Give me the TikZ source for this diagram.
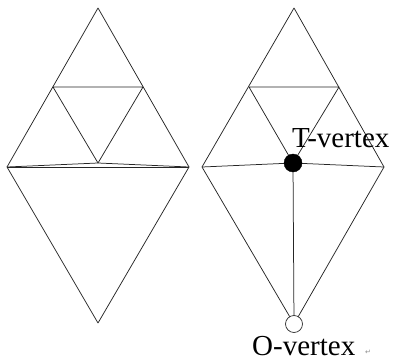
\documentclass[tikz,border=0pt]{standalone}
\usepackage{fontspec}
\setmainfont{Liberation Serif}
\newfontfamily\symfont{DejaVu Sans}
\tikzset{
  edge/.style={draw=black!85, line width=0.75pt, line join=round},
  tvert/.style={circle, fill=black, draw=black, inner sep=0pt, minimum size=18pt},
  overt/.style={circle, fill=white, draw=black!80, line width=0.75pt, inner sep=0pt, minimum size=17pt},
  lbl/.style={font=\fontsize{29}{29}\selectfont, inner sep=0pt, anchor=base west},
}
\begin{document}
\begin{tikzpicture}[x=1pt,y=-1pt]
\useasboundingbox (0,0) rectangle (395,361);
% left diamond
\coordinate (a1) at (98,8);
\coordinate (b1) at (53,87);
\coordinate (c1) at (143,87);
\coordinate (l1) at (7,167);
\coordinate (r1) at (189,167);
\coordinate (m1) at (98,163);
\coordinate (d1) at (98,323);
\draw[edge] (a1) -- (l1) -- (d1) -- (r1) -- cycle;
\draw[edge] (b1) -- (c1) -- (m1) -- cycle;
\draw[edge] (l1) -- (r1);
\draw[edge] (l1) -- (m1) -- (r1);
% right diamond
\coordinate (a2) at (294,8);
\coordinate (b2) at (249,87);
\coordinate (c2) at (339,87);
\coordinate (l2) at (202,167);
\coordinate (r2) at (384,167);
\coordinate (tc) at (293,163);
\coordinate (oc) at (294,324);
\draw[edge] (a2) -- (l2) -- (oc) -- (r2) -- cycle;
\draw[edge] (b2) -- (c2) -- (tc) -- cycle;
\draw[edge] (l2) -- (tc) -- (r2);
\draw[edge] (tc) -- (oc);
\node[tvert] (t) at (tc) {};
\node[overt] (o) at (oc) {};
\node[lbl] (tl) at (292,147) {T-vertex};
\node[lbl] (ol) at (252,355) {O-vertex};
\node[font=\symfont\fontsize{7}{7}\selectfont, text=black!45, inner sep=0pt, anchor=base west] (ret) at (365,354) {↵};
\end{tikzpicture}
\end{document}
